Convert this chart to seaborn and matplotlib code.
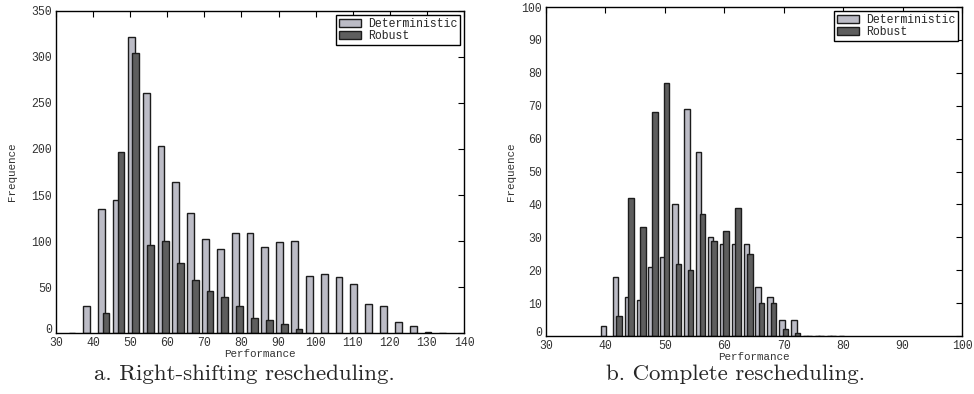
import numpy as np
import pandas as pd
import matplotlib
matplotlib.use("Agg")
import matplotlib.pyplot as plt
import seaborn as sns
from matplotlib.patches import Patch

# ---------------- data ----------------
series_names = ["Deterministic", "Robust"]

# Panel a: Right-shifting rescheduling (bin centres and counts)
a_det_x = [34.3, 38.3, 42.3, 46.3, 50.3, 54.3, 58.3, 62.3, 66.3, 70.3, 74.3, 78.3, 82.3,
           86.3, 90.3, 94.3, 98.3, 102.3, 106.3, 110.3, 114.3, 118.3, 122.3, 126.3, 130.3, 134.3]
a_det_y = [0, 29, 135, 145, 322, 261, 203, 164, 130, 102, 91, 109, 109,
           94, 99, 100, 62, 64, 61, 53, 32, 29, 12, 8, 1, 0]
a_rob_x = [43.5, 47.5, 51.5, 55.5, 59.5, 63.5, 67.5, 71.5, 75.5, 79.5, 83.5, 87.5, 91.5, 95.5]
a_rob_y = [22, 197, 304, 96, 100, 76, 58, 46, 39, 29, 16, 14, 10, 4]

# Panel b: Complete rescheduling
b_det_x = [39.7, 41.7, 43.7, 45.7, 47.7, 49.7, 51.7, 53.7, 55.7, 57.7, 59.7, 61.7, 63.7,
           65.7, 67.7, 69.7, 71.7, 73.7, 75.7, 77.7, 79.7]
b_det_y = [3, 18, 12, 11, 21, 24, 40, 69, 56, 30, 28, 28, 28, 15, 12, 5, 5, 0, 0, 0, 0]
b_rob_x = [42.3, 44.3, 46.3, 48.3, 50.3, 52.3, 54.3, 56.3, 58.3, 60.3, 62.3, 64.3,
           66.3, 68.3, 70.3, 72.3, 74.3, 76.3, 78.3]
b_rob_y = [6, 42, 33, 68, 77, 22, 20, 37, 29, 32, 39, 25, 10, 10, 2, 1, 0, 0, 0]

a_xticks = [30, 40, 50, 60, 70, 80, 90, 100, 110, 120, 130, 140]
a_yticks = [0, 50, 100, 150, 200, 250, 300, 350]
b_xticks = [30, 40, 50, 60, 70, 80, 90, 100]
b_yticks = [0, 10, 20, 30, 40, 50, 60, 70, 80, 90, 100]

captions = ["a. Right-shifting rescheduling.", "b. Complete rescheduling."]
xlabel = "Performance"
ylabel = "Frequence"

# ---------------- style ----------------
det_color = "#bcbcc6"
rob_color = "#5e5e5e"
edge_color = "#1c1c1c"

sns.set_style("white")
plt.rcParams['font.family'] = ['Liberation Mono', 'DejaVu Sans Mono']

fig = plt.figure(figsize=(9.74, 3.94), dpi=100)
ax1 = fig.add_axes([0.0575, 0.1548, 0.4189, 0.8173])
ax2 = fig.add_axes([0.5606, 0.1472, 0.4271, 0.835])


def draw(ax, dx, dy, rx, ry, xticks, yticks, ylabelpad):
    sns.barplot(x=dx, y=dy, native_scale=True, width=0.46, color=det_color,
                saturation=1, edgecolor=edge_color, linewidth=1.0,
                errorbar=None, ax=ax)
    sns.barplot(x=rx, y=ry, native_scale=True, width=0.46, color=rob_color,
                saturation=1, edgecolor=edge_color, linewidth=1.0,
                errorbar=None, ax=ax)
    ax.set_xlim(xticks[0], xticks[-1])
    ax.set_ylim(yticks[0], yticks[-1])
    ax.set_xticks(xticks)
    ax.set_yticks(yticks)
    ax.set_xticklabels([str(t) for t in xticks])
    ax.set_yticklabels([str(t) for t in yticks])
    ax.tick_params(direction='in', top=True, right=True, length=4, width=0.8,
                   labelsize=8.3, colors='black', labelcolor='#333333')
    ax.tick_params(axis='x', pad=3)
    ax.tick_params(axis='y', pad=3)
    for s in ax.spines.values():
        s.set_visible(True)
        s.set_color('black')
        s.set_linewidth(1.0)
    ax.set_xlabel(xlabel, fontsize=7.8, labelpad=0, color='#333333')
    ax.set_ylabel(ylabel, fontsize=7.8, labelpad=ylabelpad, color='#333333')
    handles = [Patch(facecolor=det_color, edgecolor=edge_color, linewidth=1.0),
               Patch(facecolor=rob_color, edgecolor=edge_color, linewidth=1.0)]
    leg = ax.legend(handles, series_names, loc='upper right', fontsize=8.3,
                    frameon=True, fancybox=False, shadow=False,
                    handlelength=1.9, handleheight=0.6, labelspacing=0.0,
                    borderpad=0.25, handletextpad=0.6, borderaxespad=0.35)
    leg.get_frame().set_edgecolor('black')
    leg.get_frame().set_linewidth(1.0)
    leg.get_frame().set_alpha(1)
    # lift the corner "0" slightly so it sits just above the first x label
    ax.get_yticklabels()[0].set_va('baseline')


draw(ax1, a_det_x, a_det_y, a_rob_x, a_rob_y, a_xticks, a_yticks, 10)
draw(ax2, b_det_x, b_det_y, b_rob_x, b_rob_y, b_xticks, b_yticks, 4)

fig.text(244 / 974, 0.05, captions[0], ha='center', va='center',
         family='cmr10', fontsize=16.5)
fig.text(736 / 974, 0.05, captions[1], ha='center', va='center',
         family='cmr10', fontsize=16.5)

fig.savefig("out.png", dpi=100)
